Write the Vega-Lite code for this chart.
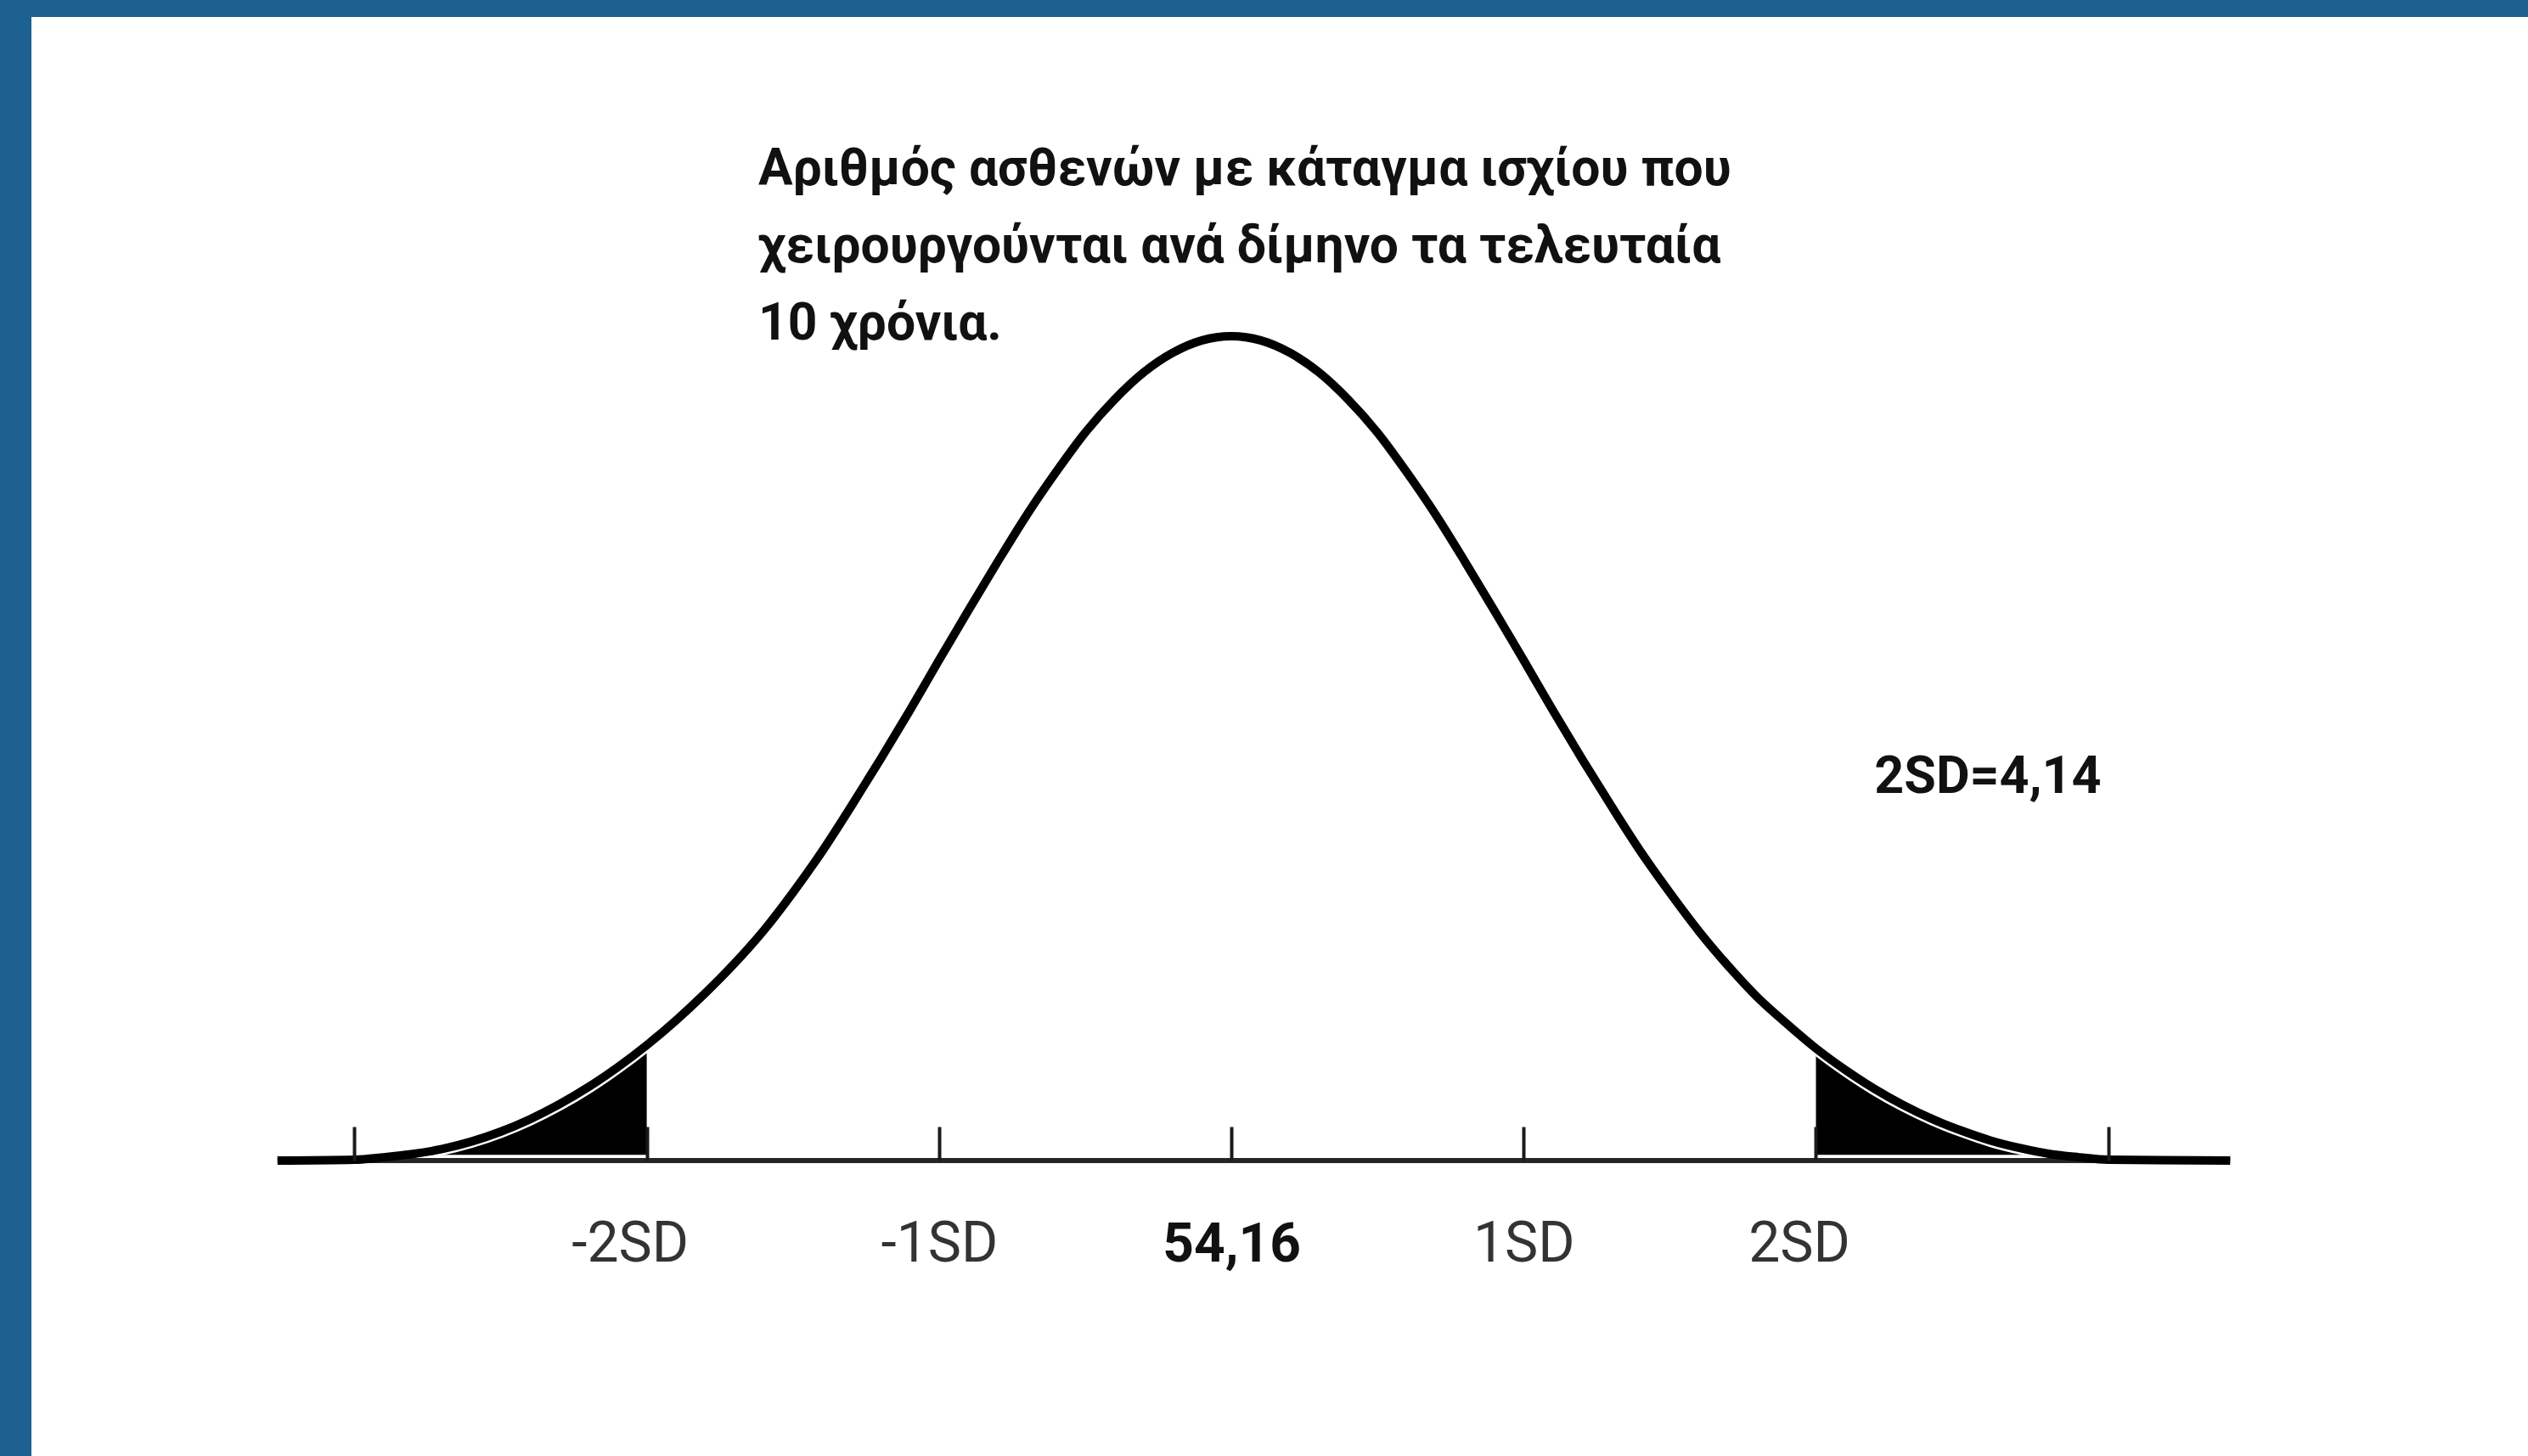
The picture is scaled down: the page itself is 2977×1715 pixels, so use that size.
{
  "$schema": "https://vega.github.io/schema/vega-lite/v6.json",
  "autosize": "none",
  "width": 2940,
  "height": 1695,
  "padding": {"left": 37, "top": 20, "right": 0, "bottom": 0},
  "background": "#1d6190",
  "config": {"view": {"fill": "white", "stroke": null}},
  "datasets": {
    "curve": [
      {"z": -3.263, "v": 0}, {"z": -3.0, "v": 0.001}, {"z": -2.9, "v": 0.004}, {"z": -2.8, "v": 0.008},
      {"z": -2.7, "v": 0.014}, {"z": -2.6, "v": 0.023}, {"z": -2.5, "v": 0.035}, {"z": -2.4, "v": 0.050},
      {"z": -2.3, "v": 0.068}, {"z": -2.2, "v": 0.089}, {"z": -2.1, "v": 0.113}, {"z": -2.0, "v": 0.140},
      {"z": -1.9, "v": 0.170}, {"z": -1.8, "v": 0.203}, {"z": -1.7, "v": 0.239}, {"z": -1.6, "v": 0.279},
      {"z": -1.5, "v": 0.325}, {"z": -1.4, "v": 0.375}, {"z": -1.3, "v": 0.430}, {"z": -1.2, "v": 0.487},
      {"z": -1.1, "v": 0.546}, {"z": -1.0, "v": 0.607}, {"z": -0.9, "v": 0.667}, {"z": -0.8, "v": 0.726},
      {"z": -0.7, "v": 0.783}, {"z": -0.6, "v": 0.835}, {"z": -0.5, "v": 0.883}, {"z": -0.4, "v": 0.923},
      {"z": -0.3, "v": 0.956}, {"z": -0.2, "v": 0.980}, {"z": -0.1, "v": 0.995}, {"z": 0.0, "v": 1.0},
      {"z": 0.1, "v": 0.995}, {"z": 0.2, "v": 0.980}, {"z": 0.3, "v": 0.956}, {"z": 0.4, "v": 0.923},
      {"z": 0.5, "v": 0.883}, {"z": 0.6, "v": 0.835}, {"z": 0.7, "v": 0.783}, {"z": 0.8, "v": 0.726},
      {"z": 0.9, "v": 0.667}, {"z": 1.0, "v": 0.607}, {"z": 1.1, "v": 0.546}, {"z": 1.2, "v": 0.487},
      {"z": 1.3, "v": 0.430}, {"z": 1.4, "v": 0.375}, {"z": 1.5, "v": 0.325}, {"z": 1.6, "v": 0.278},
      {"z": 1.7, "v": 0.236}, {"z": 1.8, "v": 0.198}, {"z": 1.9, "v": 0.166}, {"z": 2.0, "v": 0.136},
      {"z": 2.1, "v": 0.110}, {"z": 2.2, "v": 0.087}, {"z": 2.3, "v": 0.067}, {"z": 2.4, "v": 0.050},
      {"z": 2.5, "v": 0.036}, {"z": 2.6, "v": 0.024}, {"z": 2.7, "v": 0.015}, {"z": 2.8, "v": 0.008},
      {"z": 2.9, "v": 0.004}, {"z": 3.0, "v": 0.001}, {"z": 3.417, "v": 0}
    ]
  },
  "layer": [
    {
      "data": {"name": "curve"},
      "transform": [{"filter": "datum.z <= -2"}],
      "mark": {"type": "area", "color": "black", "interpolate": "monotone"},
      "encoding": {
        "x": {
          "field": "z", "type": "quantitative",
          "scale": {"domain": [-4.105, 4.436], "nice": false, "zero": false},
          "axis": {
            "orient": "bottom", "offset": -348, "domain": false, "grid": false, "title": null,
            "values": [-3, -2, -1, 0, 1, 2, 3],
            "ticks": true, "tickSize": -40, "tickWidth": 4, "tickColor": "#1a1a1a",
            "labelExpr": "datum.value == 0 ? '54,16' : abs(datum.value) == 3 ? '' : (datum.value < 0 ? '-' : '') + abs(datum.value) + 'SD'",
            "labelFont": "Roboto",
            "labelFontSize": {"condition": {"test": "datum.value == 0", "value": 64}, "value": 66},
            "labelFontWeight": {"condition": {"test": "datum.value == 0", "value": "bold"}, "value": "normal"},
            "labelColor": {"condition": {"test": "datum.value == 0", "value": "#111111"}, "value": "#333333"},
            "labelOffset": {"condition": {"test": "abs(datum.value) == 2", "value": -20}, "value": 0},
            "labelBaseline": "alphabetic",
            "labelPadding": 158,
            "labelOverlap": false,
            "labelFlush": false,
            "zindex": 1
          }
        },
        "y": {"field": "v", "type": "quantitative", "scale": {"domain": [-0.3584, 1.3872], "nice": false, "zero": false}, "axis": null},
        "y2": {"datum": 0.007}
      }
    },
    {
      "data": {"name": "curve"},
      "transform": [{"filter": "datum.z >= 2"}],
      "mark": {"type": "area", "color": "black", "interpolate": "monotone"},
      "encoding": {
        "x": {"field": "z", "type": "quantitative"},
        "y": {"field": "v", "type": "quantitative", "axis": null},
        "y2": {"datum": 0.007}
      }
    },
    {
      "data": {"name": "curve"},
      "mark": {"type": "line", "color": "white", "strokeWidth": 15, "interpolate": "monotone"},
      "encoding": {
        "x": {"field": "z", "type": "quantitative"},
        "y": {"field": "v", "type": "quantitative", "axis": null}
      }
    },
    {
      "data": {"values": [{"a": 0}]},
      "mark": {"type": "rule", "color": "#262626", "strokeWidth": 6},
      "encoding": {
        "x": {"datum": -3.263, "type": "quantitative"},
        "x2": {"datum": 3.417},
        "y": {"datum": 0, "type": "quantitative", "axis": null}
      }
    },
    {
      "data": {"name": "curve"},
      "mark": {"type": "line", "color": "black", "strokeWidth": 10, "interpolate": "monotone"},
      "encoding": {
        "x": {"field": "z", "type": "quantitative"},
        "y": {"field": "v", "type": "quantitative", "axis": null}
      }
    },
    {
      "data": {"values": [{"t": ["Αριθμός ασθενών με κάταγμα ισχίου που", "χειρουργούνται ανά δίμηνο τα τελευταία", "10 χρόνια."]}]},
      "mark": {"type": "text", "align": "left", "baseline": "alphabetic", "font": "Roboto", "fontWeight": "bold", "fontSize": 60.5, "lineHeight": 91, "color": "#111111"},
      "encoding": {
        "x": {"datum": -1.618, "type": "quantitative"},
        "y": {"datum": 1.1833, "type": "quantitative", "axis": null},
        "text": {"field": "t"}
      }
    },
    {
      "data": {"values": [{"t": "2SD=4,14"}]},
      "mark": {"type": "text", "align": "left", "baseline": "alphabetic", "font": "Roboto", "fontWeight": "bold", "fontSize": 61, "color": "#111111"},
      "encoding": {
        "x": {"datum": 2.2, "type": "quantitative"},
        "y": {"datum": 0.446, "type": "quantitative", "axis": null},
        "text": {"field": "t"}
      }
    }
  ]
}
